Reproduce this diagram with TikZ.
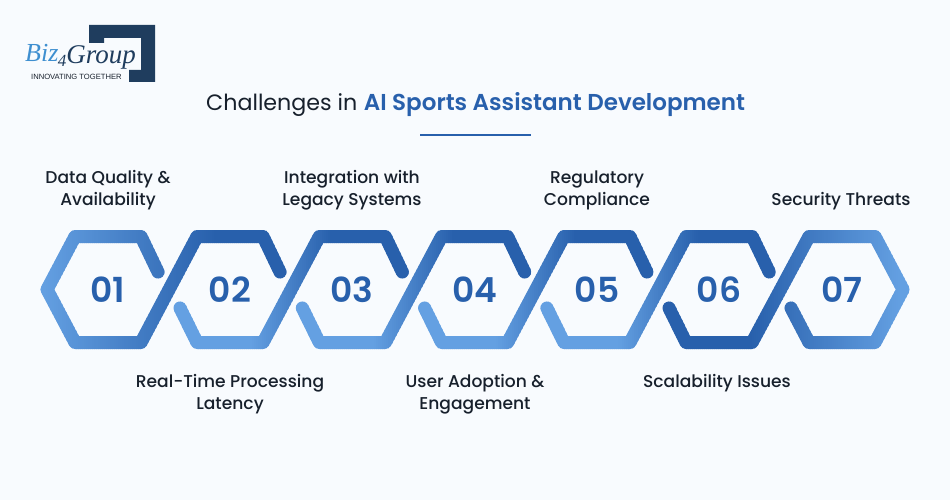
\documentclass[tikz,border=0pt]{standalone}
\usepackage{fontspec}
\setmainfont{Poppins Medium}[BoldFont={Poppins SemiBold}]
\newfontfamily\titlereg{Poppins}
\newfontfamily\logoserif{Liberation Serif}
\newfontfamily\logosans{Liberation Sans}
\definecolor{pagebg}{HTML}{F8FBFE}
\definecolor{inkdark}{HTML}{17202C}
\definecolor{navy}{HTML}{1F3D5E}
\definecolor{bluedk}{HTML}{2860AC}
\definecolor{bluelt}{HTML}{64A0E2}
\definecolor{logoblue}{HTML}{3E8FD0}
\tikzset{
  band/.style={line width=13pt,line cap=round,line join=round},
  numtext/.style={text=bluedk,font=\bfseries\fontsize{34.5}{34}\selectfont},
  labeltext/.style={text=inkdark,align=center,font=\fontsize{17.1}{22}\selectfont},
}
% #1 first x, #2 last x, #3 gradient start x, #4 gradient end x, #5 start colour, #6 end colour, #7 path
\newcommand{\gradstrand}[7]{%
  \pgfmathtruncatemacro{\firstx}{#1}%
  \pgfmathtruncatemacro{\secondx}{\firstx+2}%
  \pgfmathtruncatemacro{\lastx}{#2}%
  \foreach \sx in {\firstx,\secondx,...,\lastx}{%
    \pgfmathsetmacro{\mixpct}{100*max(0,min(1,(\sx-(#3))/((#4)-(#3))))}%
    \colorlet{slicecol}{#6!\mixpct!#5}%
    \begin{scope}
      \clip (\sx,220) rectangle (\sx+2.5,360);
      \draw[band,draw=slicecol] #7;
    \end{scope}
  }%
}
\newcommand{\hookstrand}[1]{%
  \gradstrand{#1-62}{#1+182}{#1+20}{#1+100}{bluelt}{bluedk}{%
  (#1-50,308) -- (#1-33,342.5) -- (#1+33,342.5) -- (#1+89.3,236.5) -- (#1+155.3,236.5) -- (#1+172.3,272)}%
}
\begin{document}
\begin{tikzpicture}[x=1pt,y=-1pt]
\useasboundingbox (0,0) rectangle (950,500);
\fill[pagebg] (0,0) rectangle (950,500);
% logo
\fill[navy] (89,25) -- (155,25) -- (155,82) -- (129,82) -- (129,70) -- (141,70) -- (141,38) -- (104,38) -- (104,43) -- (89,43) -- cycle;
\node[inner sep=0,anchor=base west,text=navy,font=\logoserif\itshape\fontsize{27}{27}\selectfont] (logoa) at (25,62) {{\color{logoblue}\fontsize{26}{26}\selectfont Biz}\kern-0.5pt\raisebox{-5pt}{\fontsize{17}{17}\selectfont 4}\kern0pt\raisebox{-2pt}{Group}};
\node[inner sep=0,anchor=base west,text=inkdark,font=\logosans\fontsize{7.6}{8}\selectfont] (logod) at (31,80) {INNOVATING TOGETHER};
% title
\node[inner sep=0,anchor=base west,text=inkdark] (title) at (206,111) {{\titlereg\fontsize{22.2}{24}\selectfont Challenges in}\kern6.5pt{\color{bluedk}\bfseries\fontsize{23}{24}\selectfont AI Sports Assistant Development}};
\draw[bluedk,line width=1.5pt] (420,135) -- (531,135);
% strands
\gradstrand{38}{292}{40}{215}{bluelt}{bluedk}{(158,272) -- (141,236.5) -- (75,236.5) -- (47,289.5) -- (75,342.5) -- (141,342.5) -- (197,236.5) -- (263,236.5) -- (280,272)}
\hookstrand{230}
\hookstrand{352.3}
\hookstrand{474.6}
\hookstrand{596.9}
\gradstrand{662}{912}{750}{900}{bluedk}{bluelt}{(669,308) -- (686,342.5) -- (752,342.5) -- (809,236.5) -- (875,236.5) -- (903,289.5) -- (875,342.5) -- (809,342.5) -- (791,308)}
% numbers
\node[numtext] (n1) at (108,290) {01};
\node[numtext] (n2) at (230,290) {02};
\node[numtext] (n3) at (352,290) {03};
\node[numtext] (n4) at (475,290) {04};
\node[numtext] (n5) at (597,290) {05};
\node[numtext] (n6) at (719,290) {06};
\node[numtext] (n7) at (842,290) {07};
% labels
\node[labeltext] (l1) at (108,190.5) {Data Quality \&\\Availability};
\node[labeltext] (l2) at (230,394.5) {Real-Time Processing\\Latency};
\node[labeltext] (l3) at (352,190.5) {Integration with\\Legacy Systems};
\node[labeltext] (l4) at (475,394.5) {User Adoption \&\\Engagement};
\node[labeltext] (l5) at (597,190.5) {Regulatory\\Compliance};
\node[labeltext] (l6) at (717,383.5) {Scalability Issues};
\node[labeltext] (l7) at (841,201.5) {Security Threats};
\end{tikzpicture}
\end{document}
